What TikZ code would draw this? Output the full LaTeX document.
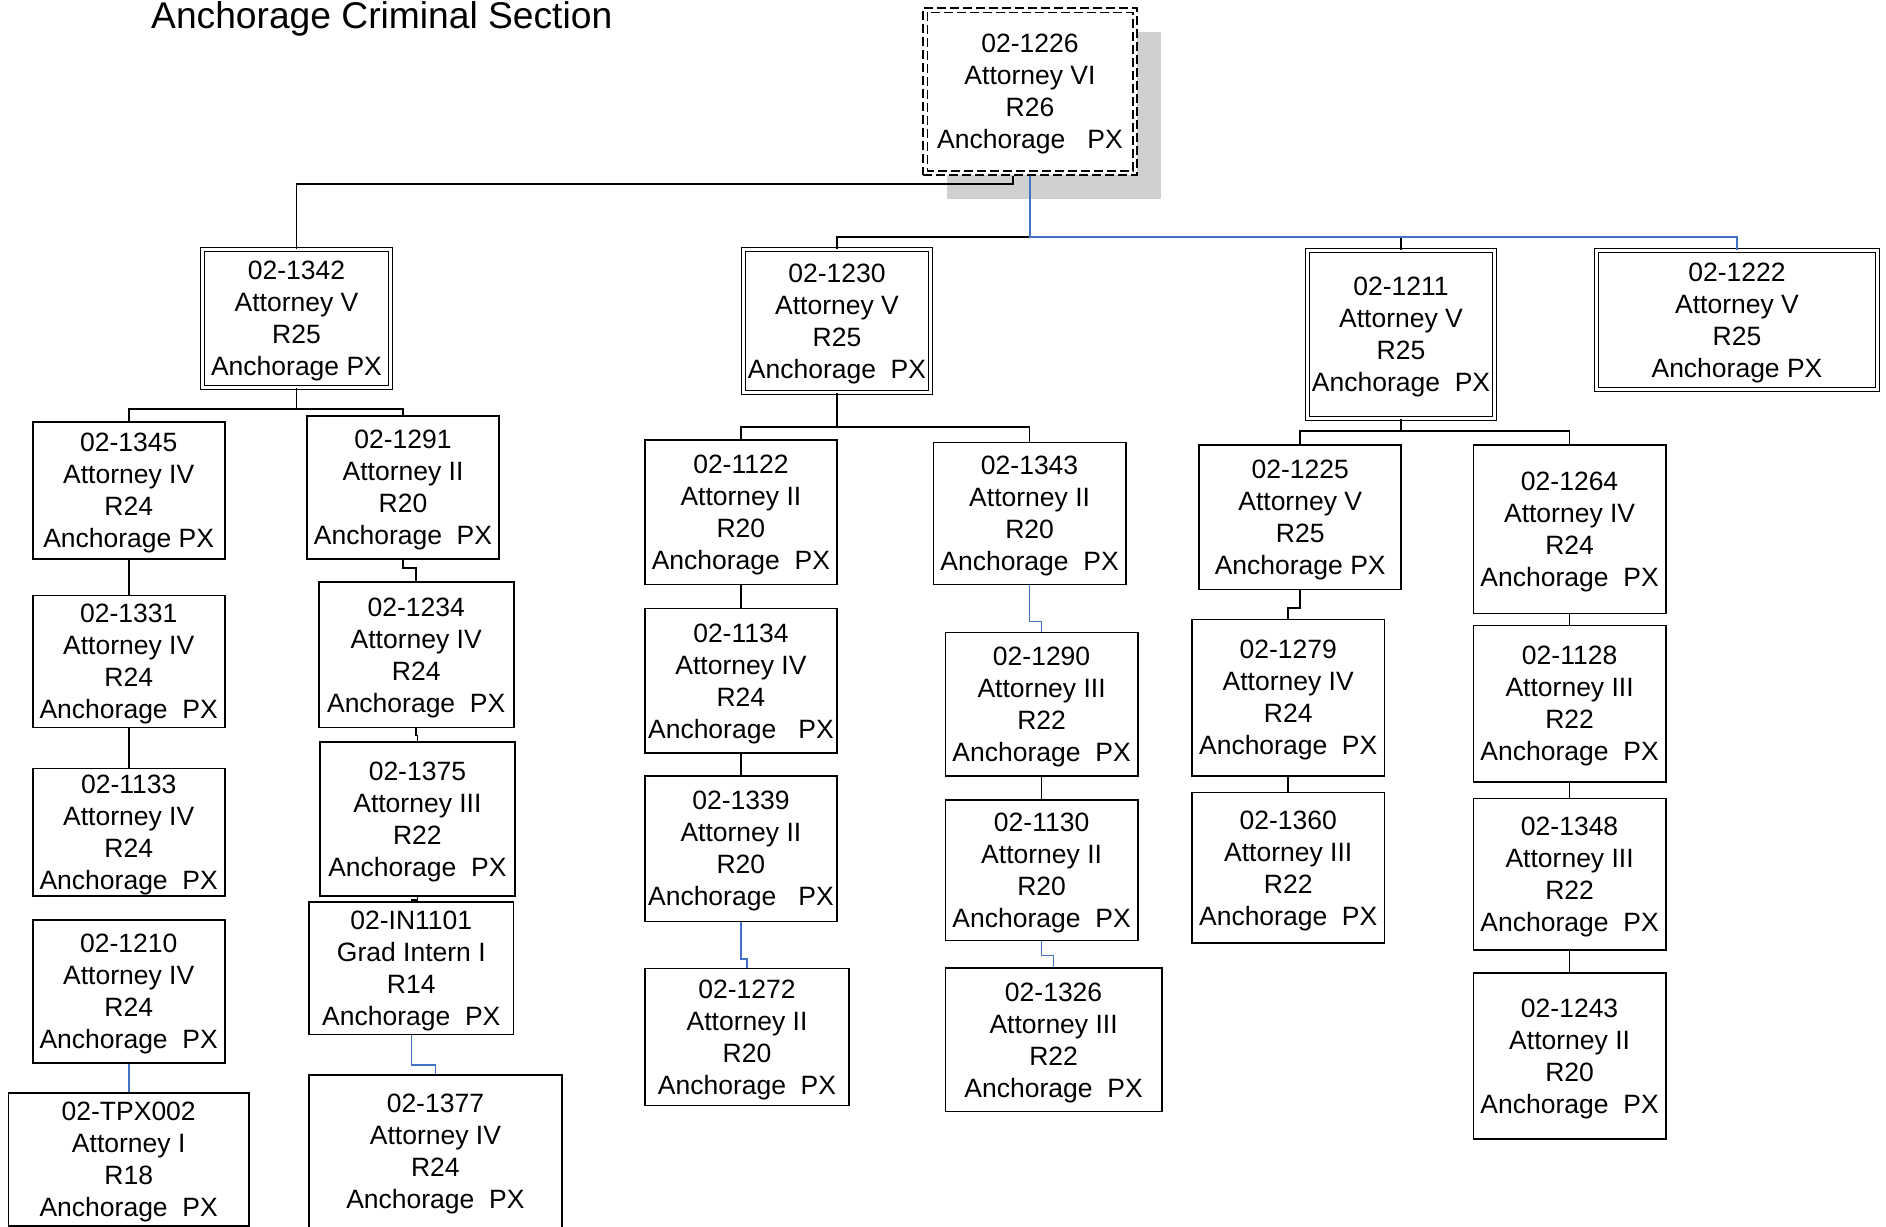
\documentclass[tikz,border=0pt]{standalone}
\usepackage{fontspec}
\setmainfont{Liberation Sans}
\usetikzlibrary{calc}
\definecolor{conblue}{RGB}{68,114,196}
\definecolor{shadowgray}{RGB}{208,208,208}
\begin{document}
\begin{tikzpicture}[x=1pt,y=-1pt,
  every node/.style={font=\fontsize{26.5}{32}\selectfont, align=center, inner sep=0pt, text depth=0pt},
  posbox/.style={draw, line width=1.6pt, fill=white},
  dblbox/.style={draw, double, double distance=2.6pt, line width=1.3pt, fill=white},
  blk/.style={draw, line width=1.6pt},
  blu/.style={draw=conblue, line width=1.6pt},
  bw/.style 2 args={minimum width=#1pt, minimum height=#2pt}
]
\useasboundingbox (0,0) rectangle (1886,1226);

% title
\node[anchor=base west, font=\fontsize{37.2}{40}\selectfont] (title) at (151,28) {Anchorage Criminal Section};

% root
\node[bw={214}{167}] (root) at (1030,91.5) {};
\fill[shadowgray] ([shift={(24pt,-24pt)}]root.north west) rectangle ([shift={(24pt,-24pt)}]root.south east);
\node[draw, fill=white, dash pattern=on 9pt off 4pt, line width=1.5pt, bw={214}{167}] (rootbox) at (1030,91.5)
  {02-1226\\Attorney VI\\R26\\Anchorage~~~PX};
\draw[dash pattern=on 9pt off 4pt, line width=1.5pt] ([shift={(5pt,-5pt)}]rootbox.north west) rectangle ([shift={(-5pt,5pt)}]rootbox.south east);

% level 1 (double boxes)
\node[dblbox, bw={188}{138}] (n1342) at (296.5,318.5) {02-1342\\Attorney V\\R25\\Anchorage PX};
\node[dblbox, bw={187}{143}] (n1230) at (837,321) {02-1230\\Attorney V\\R25\\Anchorage~~PX};
\node[dblbox, bw={187}{168}] (n1211) at (1401,334.5) {02-1211\\Attorney V\\R25\\Anchorage~~PX};
\node[dblbox, bw={281}{139}] (n1222) at (1737,320) {02-1222\\Attorney V\\R25\\Anchorage PX};

% column 1
\node[posbox, bw={192}{137}] (n1345) at (128.7,490.6) {02-1345\\Attorney IV\\R24\\Anchorage PX};
\node[posbox, bw={192}{132}] (n1331) at (128.7,661.5) {02-1331\\Attorney IV\\R24\\Anchorage~~PX};
\node[posbox, bw={192}{127.5}] (n1133) at (128.7,832.3) {02-1133\\Attorney IV\\R24\\Anchorage~~PX};
\node[posbox, bw={192}{143}] (n1210) at (128.7,991.6) {02-1210\\Attorney IV\\R24\\Anchorage~~PX};
\node[posbox, bw={240.6}{133}] (tpx) at (128.7,1159.5) {02-TPX002\\Attorney I\\R18\\Anchorage~~PX};

% column 2
\node[posbox, bw={192.5}{143}] (n1291) at (403,487.7) {02-1291\\Attorney II\\R20\\Anchorage~~PX};
\node[posbox, bw={195}{145.5}] (n1234) at (416.2,654.9) {02-1234\\Attorney IV\\R24\\Anchorage~~PX};
\node[posbox, bw={195}{154}] (n1375) at (417.4,819) {02-1375\\Attorney III\\R22\\Anchorage~~PX};
\node[posbox, bw={204.5}{132.4}] (n1101) at (411.3,968.2) {02-IN1101\\Grad Intern I\\R14\\Anchorage~~PX};
\node[posbox, bw={252.6}{165}] (n1377) at (435.4,1157.5) {};
\node (t1377) at (435.4,1151) {02-1377\\Attorney IV\\R24\\Anchorage~~PX};

% column 3
\node[posbox, bw={192.4}{144.4}] (n1122) at (740.9,512.4) {02-1122\\Attorney II\\R20\\Anchorage~~PX};
\node[posbox, bw={192.4}{144.4}] (n1134) at (740.9,680.8) {02-1134\\Attorney IV\\R24\\Anchorage~~~PX};
\node[posbox, bw={192.4}{145.5}] (n1339) at (740.9,848.6) {02-1339\\Attorney II\\R20\\Anchorage~~~PX};
\node[posbox, bw={204.5}{137}] (n1272) at (747,1036.8) {02-1272\\Attorney II\\R20\\Anchorage~~PX};

% column 4
\node[posbox, bw={192.4}{142}] (n1343) at (1029.6,513.6) {02-1343\\Attorney II\\R20\\Anchorage~~PX};
\node[posbox, bw={192.4}{143.1}] (n1290) at (1041.6,704.2) {02-1290\\Attorney III\\R22\\Anchorage~~PX};
\node[posbox, bw={192.4}{140.7}] (n1130) at (1041.6,870.2) {02-1130\\Attorney II\\R20\\Anchorage~~PX};
\node[posbox, bw={216.5}{143.1}] (n1326) at (1053.6,1039.8) {02-1326\\Attorney III\\R22\\Anchorage~~PX};

% column 5
\node[posbox, bw={202}{144.4}] (n1225) at (1300.2,517.2) {02-1225\\Attorney V\\R25\\Anchorage PX};
\node[posbox, bw={192.4}{156.4}] (n1279) at (1288.2,697.6) {02-1279\\Attorney IV\\R24\\Anchorage~~PX};
\node[posbox, bw={192.4}{150.4}] (n1360) at (1288.2,867.8) {02-1360\\Attorney III\\R22\\Anchorage~~PX};

% column 6
\node[posbox, bw={192.5}{168.4}] (n1264) at (1569.6,529.2) {02-1264\\Attorney IV\\R24\\Anchorage~~PX};
\node[posbox, bw={192.5}{156.4}] (n1128) at (1569.6,703.6) {02-1128\\Attorney III\\R22\\Anchorage~~PX};
\node[posbox, bw={192.5}{151.5}] (n1348) at (1569.6,874.4) {02-1348\\Attorney III\\R22\\Anchorage~~PX};
\node[posbox, bw={192.5}{166}] (n1243) at (1569.6,1056) {02-1243\\Attorney II\\R20\\Anchorage~~PX};

% connectors from root
\draw[blk] ([xshift=-17pt]rootbox.south) -- ++(0,8) -| (n1342.north);
\draw[blk] (rootbox.south) -- ++(0,61) -| (n1230.north);
\draw[blk] (rootbox.south) -- ++(0,61) -| (n1211.north);
\draw[blu] (rootbox.south) -- ++(0,61) -| (n1222.north);

% 1342 subtree
\draw[blk] (n1342.south) -- ++(0,21) -| (n1345.north);
\draw[blk] (n1342.south) -- ++(0,21) -| (n1291.north);
\draw[blk] (n1345.south) -- (n1331.north);
\draw[blk] (n1331.south) -- (n1133.north);
\draw[blu] (n1210.south) -- (tpx.north);
\draw[blk] (n1291.south) -- ++(0,8) -| (n1234.north);
\draw[blk] (n1234.south) -- ++(0,7) -| (n1375.north);
\draw[blk] (n1375.south) -- ++(0,3) -| (n1101.north);
\draw[blu] (n1101.south) -- ++(0,30) -| (n1377.north);

% 1230 subtree
\draw[blk] (n1230.south) -- ++(0,34) -| (n1122.north);
\draw[blk] (n1230.south) -- ++(0,34) -| (n1343.north);
\draw[blk] (n1122.south) -- (n1134.north);
\draw[blk] (n1134.south) -- (n1339.north);
\draw[blu] (n1339.south) -- ++(0,37) -| (n1272.north);
\draw[blu] (n1343.south) -- ++(0,36) -| (n1290.north);
\draw[blk] (n1290.south) -- (n1130.north);
\draw[blu] (n1130.south) -- ++(0,14) -| (n1326.north);

% 1211 subtree
\draw[blk] (n1211.south) -- ++(0,12) -| (n1225.north);
\draw[blk] (n1211.south) -- ++(0,12) -| (n1264.north);
\draw[blk] (n1225.south) -- ++(0,18) -| (n1279.north);
\draw[blk] (n1279.south) -- (n1360.north);
\draw[blk] (n1264.south) -- (n1128.north);
\draw[blk] (n1128.south) -- (n1348.north);
\draw[blk] (n1348.south) -- (n1243.north);
\end{tikzpicture}
\end{document}
